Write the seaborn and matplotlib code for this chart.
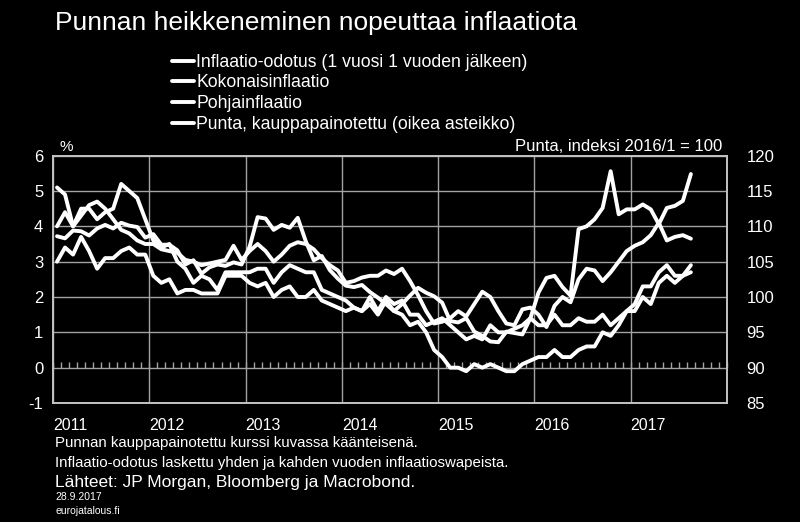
import matplotlib
matplotlib.use("Agg")
import matplotlib.pyplot as plt
from matplotlib.ticker import MultipleLocator, NullLocator
import numpy as np
import pandas as pd
import seaborn as sns

# monthly data, Jan 2011 - Aug 2017
months = pd.date_range("2011-01-01", periods=80, freq="MS")

odotus = [5.1, 4.9, 4.0, 4.3, 4.6, 4.7, 4.5, 4.2, 3.9, 3.8, 3.6, 3.5,
          3.5, 3.35, 3.3, 3.25, 3.05, 3.0, 2.9, 2.95, 3.0, 3.05, 3.45, 3.05,
          3.3, 3.5, 3.3, 3.0, 3.2, 3.45, 3.55, 3.5, 3.35, 3.1, 2.9, 2.75,
          2.4, 2.45, 2.55, 2.6, 2.6, 2.75, 2.65, 2.8, 2.45, 2.05, 1.6, 1.25,
          1.3, 1.4, 1.6, 1.45, 1.8, 2.15, 2.0, 1.6, 1.25, 1.2, 1.65, 1.7,
          1.5, 1.15, 1.75, 2.0, 1.85, 2.5, 2.8, 2.75, 2.45, 2.7, 3.0, 3.3,
          3.45, 3.55, 3.75, 4.1, 3.6, 3.7, 3.75, 3.65]

kokonais = [4.0, 4.4, 4.0, 4.5, 4.5, 4.2, 4.4, 4.5, 5.2, 5.0, 4.8, 4.2,
            3.6, 3.4, 3.5, 3.0, 2.8, 2.4, 2.6, 2.5, 2.2, 2.7, 2.7, 2.7,
            2.7, 2.8, 2.8, 2.4, 2.7, 2.9, 2.8, 2.7, 2.7, 2.2, 2.1, 2.0,
            1.9, 1.7, 1.6, 1.8, 1.5, 1.9, 1.6, 1.5, 1.2, 1.3, 1.0, 0.5,
            0.3, 0.0, 0.0, -0.1, 0.1, 0.0, 0.1, 0.0, -0.1, -0.1, 0.1, 0.2,
            0.3, 0.3, 0.5, 0.3, 0.3, 0.5, 0.6, 0.6, 1.0, 0.9, 1.2, 1.6,
            1.8, 2.3, 2.3, 2.7, 2.9, 2.6, 2.6, 2.9]

pohja = [3.0, 3.4, 3.2, 3.7, 3.3, 2.8, 3.1, 3.1, 3.3, 3.4, 3.2, 3.2,
         2.6, 2.4, 2.5, 2.1, 2.2, 2.2, 2.1, 2.1, 2.1, 2.6, 2.6, 2.6,
         2.4, 2.3, 2.4, 2.0, 2.2, 2.3, 2.0, 2.0, 2.2, 1.9, 1.8, 1.7,
         1.6, 1.7, 1.6, 2.0, 1.6, 2.0, 1.8, 1.9, 1.5, 1.5, 1.2, 1.3,
         1.4, 1.2, 1.0, 0.8, 0.9, 0.8, 1.2, 1.0, 1.0, 1.1, 1.2, 1.4,
         1.2, 1.2, 1.5, 1.2, 1.2, 1.4, 1.3, 1.3, 1.5, 1.2, 1.4, 1.6,
         1.6, 2.0, 1.8, 2.4, 2.6, 2.4, 2.6, 2.7]

# trade-weighted pound, inverted, 2016/1 = 100 (right scale)
punta = [108.6, 108.3, 109.4, 109.3, 108.7, 109.7, 110.2, 109.7, 110.5, 110.1, 109.9, 108.4,
         108.9, 107.4, 107.4, 106.6, 104.6, 105.2, 103.3, 104.2, 104.6, 104.4, 104.9, 104.6,
         107.1, 111.3, 111.1, 109.5, 110.2, 109.8, 111.2, 107.9, 105.2, 105.8, 103.8, 102.6,
         101.6, 101.4, 101.7, 100.7, 99.9, 99.0, 98.0, 99.0, 100.2, 101.3, 100.6, 100.1,
         99.2, 96.6, 96.4, 97.0, 95.1, 94.5, 93.7, 93.6, 95.1, 94.9, 94.7, 97.0,
         100.6, 102.7, 103.0, 101.4, 100.2, 109.6, 110.0, 111.0, 112.6, 117.8, 111.7, 112.4,
         112.4, 113.1, 112.4, 110.3, 112.6, 112.9, 113.6, 117.4]

series_labels = ["Inflaatio-odotus (1 vuosi 1 vuoden jälkeen)",
                 "Kokonaisinflaatio",
                 "Pohjainflaatio",
                 "Punta, kauppapainotettu (oikea asteikko)"]
years = [2011, 2012, 2013, 2014, 2015, 2016, 2017]
left_ticks = [-1, 0, 1, 2, 3, 4, 5, 6]
right_ticks = [85, 90, 95, 100, 105, 110, 115, 120]

sns.set_style("dark")
plt.rcParams["font.family"] = ["Liberation Sans", "DejaVu Sans"]
narrow = ["Liberation Sans Narrow", "DejaVu Sans Condensed", "Liberation Sans"]

df = pd.DataFrame({
    "x": months.year + (months.month - 0.5) / 12,
    "odotus": odotus, "kokonais": kokonais, "pohja": pohja, "punta": punta,
})

grid_c = "#a3a3a3"
fig = plt.figure(figsize=(8, 5.22), dpi=100, facecolor="black")
ax = fig.add_axes([0.06625, 0.228, 0.8425, 0.4738])
ax.set_facecolor("black")
ax2 = ax.twinx()

lw = 2.8
sns.lineplot(data=df, x="x", y="odotus", ax=ax, color="white", lw=lw, label=series_labels[0])
sns.lineplot(data=df, x="x", y="kokonais", ax=ax, color="white", lw=lw, label=series_labels[1])
sns.lineplot(data=df, x="x", y="pohja", ax=ax, color="white", lw=lw, label=series_labels[2])
sns.lineplot(data=df, x="x", y="punta", ax=ax2, color="white", lw=lw, label=series_labels[3])
for a in (ax, ax2):
    if a.get_legend() is not None:
        a.get_legend().remove()
    a.set_xlabel("")
    a.set_ylabel("")
    for s in a.spines.values():
        s.set_color("#c4c4c4")
        s.set_linewidth(1.2)

ax.set_xlim(2011, 2018)
ax.set_ylim(-1, 6)
ax2.set_ylim(85, 120)
ax.set_yticks(left_ticks)
ax.set_yticklabels([str(t) for t in left_ticks])
ax2.set_yticks(right_ticks)
ax2.set_yticklabels([str(t) for t in right_ticks])
ax.set_xticks(years)
ax.set_xticklabels([str(y) for y in years], ha="left")
ax.tick_params(axis="y", length=0, pad=7, labelsize=12, labelcolor="white")
ax2.tick_params(axis="y", length=0, pad=14, labelsize=12, labelcolor="white")
ax.tick_params(axis="x", length=0, pad=11, labelsize=11.5, labelcolor="white")
ax.grid(True, color=grid_c, lw=1)
ax2.grid(False)

# monthly tick marks on the zero line
sec = ax.secondary_xaxis(1 / 7)
sec.xaxis.set_major_locator(NullLocator())
sec.xaxis.set_minor_locator(MultipleLocator(1 / 12))
sec.tick_params(which="minor", direction="in", length=4, width=1, color=grid_c)
for s in sec.spines.values():
    s.set_visible(False)

handles = ax.get_lines()[:3] + ax2.get_lines()[:1]
fig.legend(handles, series_labels, loc="upper left", bbox_to_anchor=(0.215, 0.897),
           frameon=False, fontsize=12.7, handlelength=1.25, handletextpad=0.12,
           labelspacing=0.21, borderaxespad=0, borderpad=0, labelcolor="white")

fig.text(0.069, 0.943, "Punnan heikkeneminen nopeuttaa inflaatiota",
         color="white", fontsize=19, va="baseline")
fig.text(0.074, 0.71, "%", color="white", fontsize=11, va="baseline")
fig.text(0.903, 0.71, "Punta, indeksi 2016/1 = 100", color="white", fontsize=12,
         va="baseline", ha="right")

fig.text(0.069, 0.143, "Punnan kauppapainotettu kurssi kuvassa käänteisenä.",
         color="white", fontsize=10.8, family=narrow, va="baseline")
fig.text(0.069, 0.105, "Inflaatio-odotus laskettu yhden ja kahden vuoden inflaatioswapeista.",
         color="white", fontsize=10.8, family=narrow, va="baseline")
fig.text(0.069, 0.067, "Lähteet: JP Morgan, Bloomberg ja Macrobond.",
         color="white", fontsize=12.5, va="baseline")
fig.text(0.069, 0.043, "28.9.2017", color="white", fontsize=7.5, family=narrow, va="baseline")
fig.text(0.069, 0.016, "eurojatalous.fi", color="white", fontsize=7.5, family=narrow, va="baseline")

fig.savefig("out.png", dpi=100, facecolor="black")
